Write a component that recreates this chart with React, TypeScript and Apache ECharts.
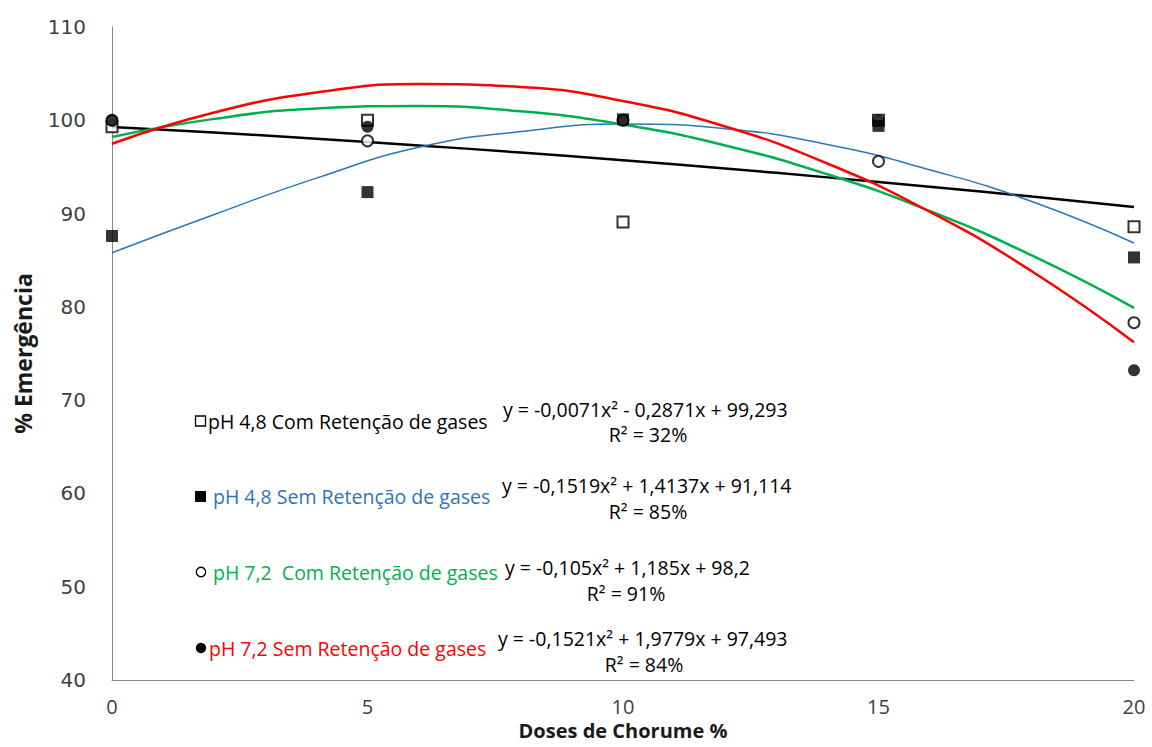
import React, { useEffect, useRef } from "react";
import * as echarts from "echarts";

// Observed data points (dose %, emergence %)
const doses = [0, 5, 10, 15, 20];
const ph48Com = [99.3, 100, 89.1, 100, 88.6];
const ph48Sem = [87.6, 92.3, 100.1, 99.4, 85.3];
const ph72Com = [100, 97.8, 100, 95.6, 78.3];
const ph72Sem = [100, 99.3, 100, 100, 73.2];

// Trend curves
const curveX = [0, 2, 4, 6, 8, 10, 12, 14, 16, 18, 20];
const curve48Com = [99.29, 98.69, 98.03, 97.31, 96.54, 95.71, 94.83, 93.88, 92.88, 91.83, 90.71];
const curve48Sem = [85.8, 89.9, 93.8, 97.1, 98.8, 99.6, 99.1, 97.4, 94.7, 91.3, 86.85];
const curve72Com = [98.2, 100.15, 101.26, 101.53, 100.96, 99.55, 97.3, 94.21, 90.28, 85.51, 79.9];
const curve72Sem = [97.49, 100.84, 102.97, 103.88, 103.58, 102.06, 99.33, 95.37, 90.2, 83.82, 76.21];

const legendLabels = [
  "pH 4,8 Com Retenção de gases",
  "pH 4,8 Sem Retenção de gases",
  "pH 7,2  Com Retenção de gases",
  "pH 7,2 Sem Retenção de gases",
];
const equations = [
  "y = -0,0071x² - 0,2871x + 99,293",
  "y = -0,1519x² + 1,4137x + 91,114",
  "y = -0,105x² + 1,185x + 98,2",
  "y = -0,1521x² + 1,9779x + 97,493",
];
const r2Labels = ["R² = 32%", "R² = 85%", "R² = 91%", "R² = 84%"];

const BLUE = "#2E75B6";
const GREEN = "#00B050";
const RED = "#FF0000";
const FONT = "'Open Sans', sans-serif";

function pairs(xs: number[], ys: number[]) {
  return xs.map((x, i) => [x, ys[i]]);
}

export default function App() {
  const ref = useRef<HTMLDivElement>(null);
  useEffect(() => {
    if (!ref.current) return;
    const chart = echarts.init(ref.current, undefined, { renderer: "svg" });
    const lineSeries = (data: number[], color: string, width: number) => ({
      type: "line",
      data: pairs(curveX, data),
      smooth: true,
      showSymbol: false,
      symbol: "none",
      lineStyle: { color, width },
      z: 2,
      silent: true,
    });
    const legendRows = [
      { y: 421, tx: 208, color: "#000", ex: 503, ey: 409, rx: 648, ry: 434 },
      { y: 496, tx: 213, color: BLUE, ex: 502, ey: 485, rx: 648, ry: 511 },
      { y: 572, tx: 213, color: GREEN, ex: 505, ey: 567, rx: 626, ry: 593 },
      { y: 648, tx: 209, color: RED, ex: 498, ey: 638, rx: 644, ry: 664 },
    ];
    const graphics: any[] = [];
    legendRows.forEach((r, i) => {
      graphics.push({
        type: "text",
        x: r.tx,
        y: r.y,
        style: { text: legendLabels[i], fill: r.color, font: `19.5px ${FONT}`, textVerticalAlign: "middle" },
      });
      graphics.push({
        type: "text",
        x: r.ex,
        y: r.ey,
        style: { text: equations[i], fill: "#000", font: `19.5px ${FONT}`, textVerticalAlign: "middle" },
      });
      graphics.push({
        type: "text",
        x: r.rx,
        y: r.ry,
        style: {
          text: r2Labels[i],
          fill: "#000",
          font: `19.5px ${FONT}`,
          textAlign: "center",
          textVerticalAlign: "middle",
        },
      });
    });
    graphics.push({ type: "rect", shape: { x: 195.5, y: 416, width: 10, height: 10 }, style: { fill: "#fff", stroke: "#000", lineWidth: 1.3 } });
    graphics.push({ type: "rect", shape: { x: 195, y: 491, width: 11, height: 11 }, style: { fill: "#000" } });
    graphics.push({ type: "circle", shape: { cx: 201, cy: 572, r: 4.7 }, style: { fill: "#fff", stroke: "#000", lineWidth: 1.3 } });
    graphics.push({ type: "circle", shape: { cx: 201, cy: 648, r: 5.2 }, style: { fill: "#000" } });

    chart.setOption({
      animation: false,
      grid: { left: 112, right: 18, top: 27, bottom: 67, containLabel: false, outerBoundsMode: "none" },
      xAxis: {
        type: "value",
        min: 0,
        max: 20,
        interval: 5,
        name: "Doses de Chorume %",
        nameLocation: "middle",
        nameGap: 35,
        nameTextStyle: { fontFamily: FONT, fontSize: 20, lineHeight: 20, fontWeight: "bold", color: "#1a1a1a" },
        axisLine: { lineStyle: { color: "#868686", width: 1 } },
        axisTick: { show: false },
        splitLine: { show: false },
        axisLabel: { fontFamily: FONT, fontSize: 20, color: "#404040", margin: 16 },
      },
      yAxis: {
        type: "value",
        min: 40,
        max: 110,
        interval: 10,
        name: "% Emergência",
        nameLocation: "middle",
        nameGap: 78,
        nameRotate: 90,
        nameTextStyle: { fontFamily: FONT, fontSize: 23, fontWeight: "bold", color: "#1a1a1a" },
        axisLine: { show: true, lineStyle: { color: "#868686", width: 1 } },
        axisTick: { show: false },
        splitLine: { show: false },
        axisLabel: { fontFamily: "'DejaVu Sans', sans-serif", fontSize: 20, color: "#404040", margin: 26 },
      },
      series: [
        lineSeries(curve48Com, "#000", 2.5),
        lineSeries(curve48Sem, BLUE, 1.5),
        lineSeries(curve72Com, GREEN, 2.5),
        lineSeries(curve72Sem, RED, 2.5),
        {
          type: "scatter",
          data: pairs(doses, ph48Com),
          symbol: "rect",
          symbolSize: 11,
          itemStyle: { color: "#fff", borderColor: "#000", borderWidth: 2 },
          z: 3,
        },
        {
          type: "scatter",
          data: pairs(doses, ph48Sem),
          symbol: "rect",
          symbolSize: 12,
          itemStyle: { color: "#000" },
          z: 3,
        },
        {
          type: "scatter",
          data: pairs(doses, ph72Com),
          symbol: "circle",
          symbolSize: 11,
          itemStyle: { color: "#fff", borderColor: "#000", borderWidth: 2 },
          z: 3,
        },
        {
          type: "scatter",
          data: pairs(doses, ph72Sem),
          symbol: "circle",
          symbolSize: 12,
          itemStyle: { color: "#000" },
          z: 3,
        },
      ],
      graphic: graphics,
    });
    return () => chart.dispose();
  }, []);
  return (
    <div
      ref={ref}
      style={{ position: "fixed", left: 0, top: 0, width: 1152, height: 747, background: "#fff" }}
    />
  );
}
